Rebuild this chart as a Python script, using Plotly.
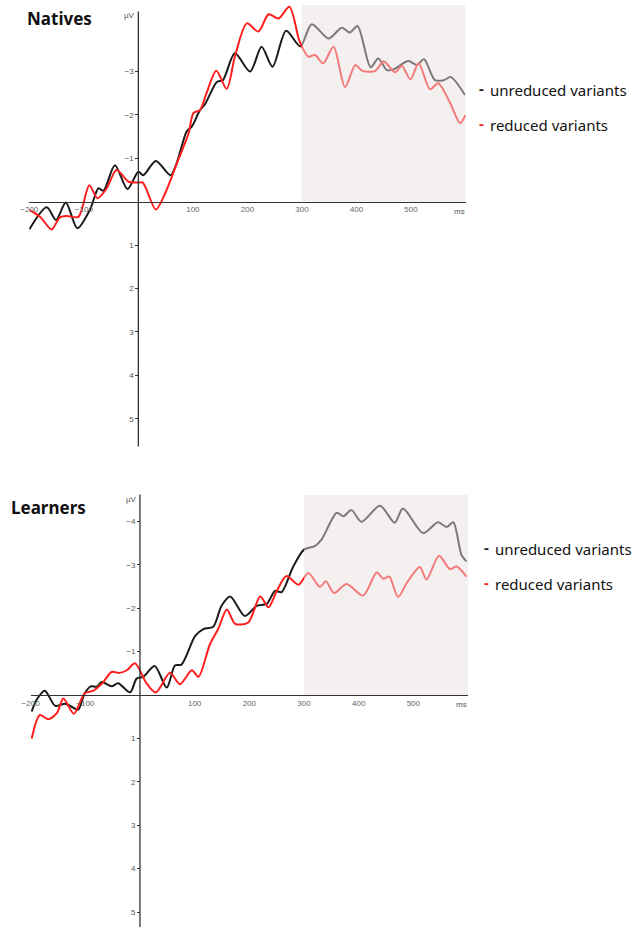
import plotly.graph_objects as go

# ---------------- data (time in ms, amplitude in µV; negative plotted up) ----------------
nat_unred_t = [-200, -168, -151, -133, -112, -89, -73, -64, -43, -20, 0, 9, 32, 59, 70, 89, 98, 113, 122,
               144, 155, 177, 205, 226, 246, 271, 297, 318, 349, 373, 388, 402, 426, 440, 456, 468, 495,
               511, 524, 544, 560, 573, 599]
nat_unred_v = [0.64, 0.13, 0.42, 0.02, 0.61, 0.19, -0.31, -0.25, -0.84, -0.29, -0.69, -0.61, -0.94, -0.61,
               -0.88, -1.63, -1.73, -2.11, -2.24, -2.76, -2.80, -3.42, -3.00, -3.57, -3.11, -3.94, -3.58,
               -4.09, -3.76, -4.01, -3.90, -4.05, -3.10, -3.30, -3.03, -3.05, -3.24, -3.15, -3.28, -2.80,
               -2.80, -2.87, -2.46]

nat_red_t = [-200, -180, -159, -144, -131, -110, -90, -75, -58, -40, -18, -3, 8, 32, 49, 73, 92, 101, 113,
             125, 143, 162, 177, 199, 220, 239, 257, 277, 294, 300, 312, 324, 339, 358, 379, 398, 410, 434,
             450, 471, 483, 499, 514, 535, 550, 572, 590, 600]
nat_red_v = [0.19, 0.35, 0.64, 0.36, 0.33, 0.35, -0.38, -0.08, -0.31, -0.73, -0.46, -0.44, -0.44, 0.18,
             -0.19, -0.96, -1.57, -2.04, -2.11, -2.50, -3.02, -2.60, -3.34, -4.11, -3.92, -4.32, -4.22,
             -4.49, -3.76, -3.57, -3.34, -3.38, -3.19, -3.57, -2.64, -3.15, -3.02, -3.01, -3.23, -2.98,
             -3.13, -2.82, -3.19, -2.59, -2.73, -2.27, -1.81, -2.00]

lrn_unred_t = [-198, -189, -174, -155, -137, -125, -113, -101, -90, -79, -70, -52, -40, -18, -6, 6, 27, 49,
               64, 76, 101, 116, 134, 149, 165, 192, 213, 232, 247, 259, 280, 300, 320, 332, 360, 372, 387,
               405, 439, 466, 481, 518, 545, 561, 573, 588, 597]
lrn_unred_v = [0.38, 0.11, -0.10, 0.25, 0.20, 0.27, 0.34, -0.04, -0.20, -0.19, -0.30, -0.20, -0.27, -0.06,
               -0.38, -0.42, -0.67, -0.17, -0.68, -0.70, -1.36, -1.52, -1.57, -2.05, -2.27, -1.82, -2.05,
               -2.10, -2.40, -2.37, -2.95, -3.35, -3.43, -3.58, -4.20, -4.12, -4.26, -3.99, -4.36, -3.97,
               -4.30, -3.73, -3.98, -3.87, -3.98, -3.23, -3.08]

lrn_red_t = [-198, -183, -168, -152, -140, -121, -101, -85, -67, -52, -37, -24, -9, 12, 29, 55, 73, 95, 107,
             128, 143, 159, 174, 198, 220, 235, 250, 268, 290, 308, 329, 340, 355, 378, 408, 433, 445, 456,
             472, 488, 512, 524, 547, 567, 579, 597]
lrn_red_v = [1.00, 0.46, 0.56, 0.42, 0.08, 0.43, -0.04, -0.10, -0.30, -0.53, -0.51, -0.57, -0.73, -0.27,
             -0.06, -0.51, -0.25, -0.57, -0.42, -1.17, -1.52, -1.97, -1.64, -1.67, -2.27, -2.02, -2.39,
             -2.74, -2.54, -2.81, -2.49, -2.62, -2.35, -2.56, -2.29, -2.82, -2.68, -2.73, -2.26, -2.58,
             -2.95, -2.66, -3.21, -2.90, -2.96, -2.73]

x_ticks = [-200, -100, 100, 200, 300, 400, 500]
nat_y_ticks = [-3, -2, -1, 1, 2, 3, 4, 5]
lrn_y_ticks = [-4, -3, -2, -1, 1, 2, 3, 4, 5]
legend_labels = ["unreduced variants", "reduced variants"]
panel_titles = ["Natives", "Learners"]

W, H = 632, 927
BLACK = "#1b1b1b"
RED = "#ff1e1e"
AXIS = "#333333"
PX_PER_UV = 43.4


def px(x):
    return x / W


def py(y):
    return 1 - y / H


fig = go.Figure()

# each panel: plot rectangle in pixels, axis crossing point, and where the drawn y axis line ends
panels = [
    dict(sx="", t_u=nat_unred_t, v_u=nat_unred_v, t_r=nat_red_t, v_r=nat_red_v, yt=nat_y_ticks,
         x_left=29.3, x_right=465.5, top_px=0, bottom_px=446.7, y0px=201.7, x0px=138.3,
         axis_top=-4.38, shade_top=5, title=panel_titles[0], title_y=18.5, title_x=25,
         leg_y=[90, 125], leg_x=477, uv_y=15, ms=(459, 211)),
    dict(sx="2", t_u=lrn_unred_t, v_u=lrn_unred_v, t_r=lrn_red_t, v_r=lrn_red_v, yt=lrn_y_ticks,
         x_left=30.6, x_right=468, top_px=480, bottom_px=927, y0px=695, x0px=140,
         axis_top=-4.62, shade_top=495, title=panel_titles[1], title_y=507, title_x=9,
         leg_y=[549, 584], leg_x=482, uv_y=499, ms=(461, 704)),
]

for p in panels:
    s = p["sx"]
    xa, ya = "x" + s, "y" + s
    y_hi = (p["top_px"] - p["y0px"]) / PX_PER_UV
    y_lo = (p["bottom_px"] - p["y0px"]) / PX_PER_UV
    for t, v, c in [(p["t_u"], p["v_u"], BLACK), (p["t_r"], p["v_r"], RED)]:
        fig.add_trace(go.Scatter(x=t, y=v, mode="lines", xaxis=xa, yaxis=ya,
                                 line=dict(color=c, width=2, shape="spline", smoothing=0.8),
                                 showlegend=False, hoverinfo="skip"))

    fig.update_layout({
        "xaxis" + s: dict(domain=[px(p["x_left"]), px(p["x_right"])], range=[-200, 600], anchor="free",
                          position=py(p["y0px"]), showline=True, linecolor=AXIS, linewidth=1.3,
                          showgrid=False, zeroline=False, tickvals=x_ticks, ticks="",
                          tickfont=dict(size=8, color="#666666", family="Liberation Sans")),
        "yaxis" + s: dict(domain=[py(p["bottom_px"]), py(p["top_px"])], range=[y_lo, y_hi],
                          anchor="free", position=px(p["x0px"]), showline=False, showgrid=False,
                          zeroline=False, tickvals=p["yt"], ticks="outside", ticklen=3, tickcolor=AXIS,
                          tickwidth=1, tickfont=dict(size=8, color="#555555", family="Liberation Sans")),
    })

    # vertical µV axis through t = 0
    fig.add_shape(type="line", xref=xa, yref=ya, x0=0, x1=0, y0=p["axis_top"], y1=y_lo,
                  line=dict(color=AXIS, width=1.3), layer="above")

    # shaded analysis window 300-600 ms, drawn over the waveforms
    fig.add_shape(type="rect", xref=xa, yref="paper", x0=300, x1=600,
                  y0=py(p["y0px"]), y1=py(p["shade_top"]), layer="above",
                  fillcolor="rgb(232,224,224)", opacity=0.48, line=dict(width=0))

    fig.add_annotation(x=px(p["title_x"]), y=py(p["title_y"]), xref="paper", yref="paper",
                       text="<b>" + p["title"] + "</b>", showarrow=False, xanchor="left", yanchor="middle",
                       font=dict(size=17, color="#111111", family="Noto Sans"))
    fig.add_annotation(x=px(p["x0px"] - 1), y=py(p["uv_y"]), xref="paper", yref="paper", text="µV",
                       showarrow=False, xanchor="right", yanchor="middle",
                       font=dict(size=8, color="#555555", family="Liberation Sans"))
    fig.add_annotation(x=px(p["ms"][0]), y=py(p["ms"][1]), xref="paper", yref="paper", text="ms",
                       showarrow=False, xanchor="center", yanchor="middle",
                       font=dict(size=8, color="#555555", family="Liberation Sans"))
    for lab, ly, c in zip(legend_labels, p["leg_y"], [BLACK, RED]):
        fig.add_annotation(x=px(p["leg_x"]), y=py(ly - 2), xref="paper", yref="paper",
                           text="<b>-</b>", showarrow=False, xanchor="left", yanchor="middle",
                           font=dict(size=15, color=c, family="Noto Sans"))
        fig.add_annotation(x=px(p["leg_x"] + 11), y=py(ly), xref="paper", yref="paper", text=lab,
                           showarrow=False, xanchor="left", yanchor="middle",
                           font=dict(size=15, color="#111111", family="Noto Sans"))

fig.update_layout(width=W, height=H, margin=dict(l=0, r=0, t=0, b=0, autoexpand=False),
                  paper_bgcolor="white", plot_bgcolor="rgba(0,0,0,0)", showlegend=False)

fig.write_html("out.html")
